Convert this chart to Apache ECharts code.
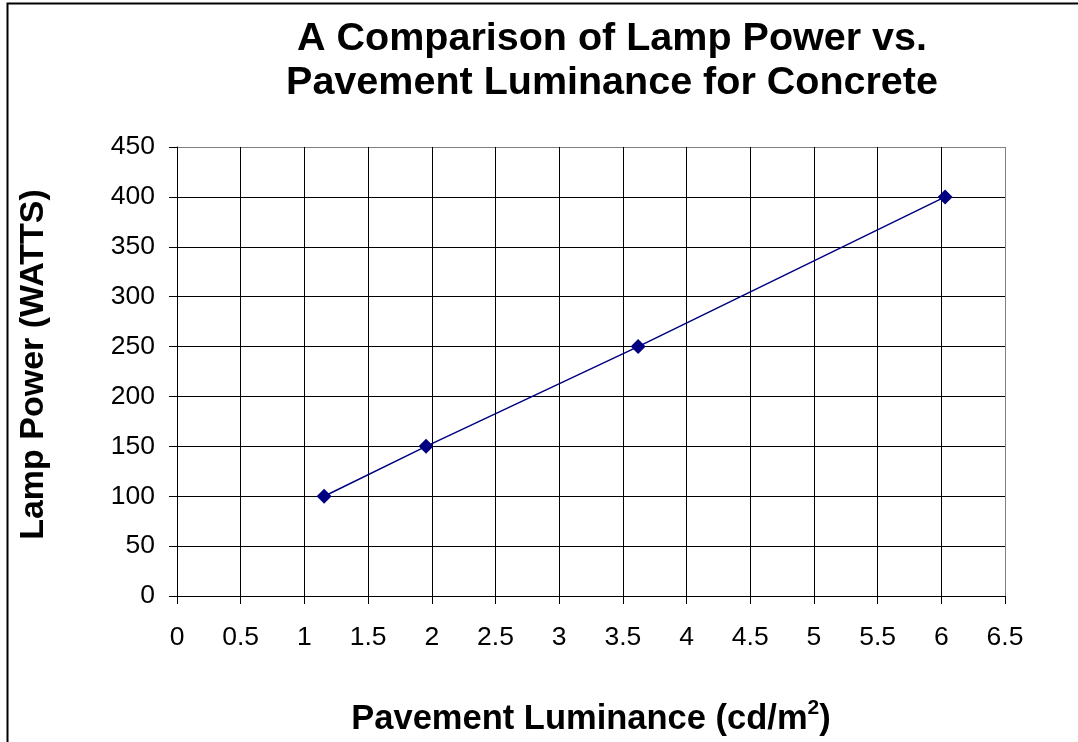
<!DOCTYPE html>
<html lang="en">
<head>
    <meta charset="UTF-8">
    <title>Lamp Power vs. Pavement Luminance</title>
    <script src="https://cdn.jsdelivr.net/npm/echarts@6/dist/echarts.min.js"></script>
    <style>
        html, body { margin: 0; padding: 0; background: #fff; }
        #chart { width: 1078px; height: 742px; }
    </style>
</head>
<body>
    <div id="chart"></div>
    <script>
        // luminance (cd/m2), lamp power in watts
        let luminance = [1.155, 1.955, 3.62, 6.03];
        let lampPower = [100, 150, 250, 400];
        let xTicks = [0, 0.5, 1, 1.5, 2, 2.5, 3, 3.5, 4, 4.5, 5, 5.5, 6, 6.5];
        let yTicks = [0, 50, 100, 150, 200, 250, 300, 350, 400, 450];

        let font = "'Liberation Sans', Arial, sans-serif";

        // last grid line is the plot border, drawn in gray
        function lineColors(ticks) {
            return ticks.map((t, i) => i === ticks.length - 1 ? '#808080' : '#000');
        }

        let chart = echarts.init(document.getElementById('chart'));
        chart.setOption({
            animation: false,
            title: {
                text: 'A Comparison of Lamp Power vs.\nPavement Luminance for Concrete',
                left: 607,
                top: 12,
                textAlign: 'center',
                textStyle: { fontFamily: font, fontSize: 39.5, fontWeight: 'bold', color: '#000', lineHeight: 44 }
            },
            graphic: [{
                type: 'rect',
                shape: { x: 7.5, y: 3.5, width: 1200, height: 900 },
                style: { fill: 'none', stroke: '#000', lineWidth: 2 },
                silent: true
            }],
            grid: { left: 177, top: 147, right: 73, bottom: 144 },
            xAxis: {
                type: 'value',
                min: 0,
                max: 6.5,
                interval: 0.5,
                name: '{n|Pavement Luminance (cd/m}{s|2}{n|)}',
                nameLocation: 'middle',
                nameGap: 102,
                nameTextStyle: {
                    rich: {
                        n: { fontFamily: font, fontSize: 34.5, fontWeight: 'bold', color: '#000' },
                        s: { fontFamily: font, fontSize: 21, fontWeight: 'bold', color: '#000', verticalAlign: 'top', padding: [0, 0, 22, 0] }
                    }
                },
                axisLine: { lineStyle: { color: '#000', width: 1 } },
                axisTick: { length: 8, lineStyle: { color: '#000' } },
                axisLabel: {
                    margin: 28, fontFamily: font, fontSize: 26.5, color: '#000',
                    formatter: v => String(v)
                },
                splitLine: { show: true, lineStyle: { color: lineColors(xTicks), width: 1 } }
            },
            yAxis: {
                type: 'value',
                min: 0,
                max: 450,
                interval: 50,
                name: 'Lamp Power (WATTS)',
                nameLocation: 'middle',
                nameGap: 126,
                nameTextStyle: { fontFamily: font, fontSize: 34, fontWeight: 'bold', color: '#000', padding: [0, 0, 0, 14] },
                axisLine: { show: true, lineStyle: { color: '#000', width: 1 } },
                axisTick: { show: true, length: 8, lineStyle: { color: '#000' } },
                axisLabel: { margin: 22, fontFamily: font, fontSize: 26.5, color: '#000' },
                splitLine: { show: true, lineStyle: { color: lineColors(yTicks), width: 1 } }
            },
            series: [{
                type: 'line',
                data: luminance.map((x, i) => [x, lampPower[i]]),
                symbol: 'diamond',
                symbolSize: 15,
                itemStyle: { color: '#000080' },
                lineStyle: { color: '#000080', width: 1.5 }
            }]
        });
    </script>
</body>
</html>
